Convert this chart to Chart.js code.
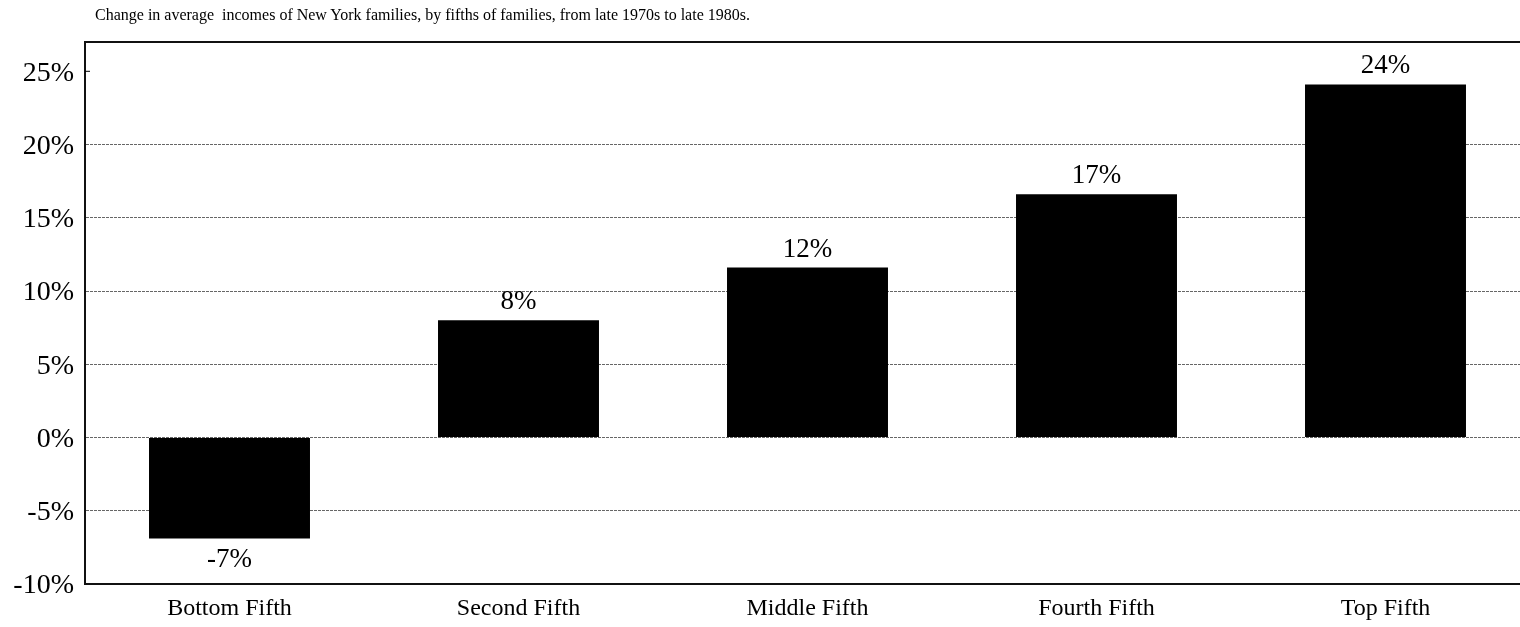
<!DOCTYPE html>
<html>
<head>
<meta charset="utf-8">
<title>Change in average incomes of New York families</title>
<script src="https://cdn.jsdelivr.net/npm/chart.js@4/dist/chart.umd.min.js"></script>
<style>
  html, body { margin: 0; padding: 0; background: #fff; overflow: hidden; }
  #wrap { position: relative; width: 1530px; height: 627px; }
  #title {
    position: absolute; left: 95px; top: 6px;
    font-family: "Liberation Serif", "Times New Roman", serif;
    font-size: 16px; color: #000; white-space: pre;
  }
</style>
</head>
<body>
<div id="wrap">
  <div id="title">Change in average  incomes of New York families, by fifths of families, from late 1970s to late 1980s.</div>
  <canvas id="chart"></canvas>
</div>
<script>
// Income groups and percentage change in average family income
const categories = ['Bottom Fifth', 'Second Fifth', 'Middle Fifth', 'Fourth Fifth', 'Top Fifth'];
const changePct = [-6.9, 8.0, 11.6, 16.6, 24.1];
const yTicks = [-10, -5, 0, 5, 10, 15, 20, 25];
const yMin = -10;
const yMax = 27;

const SERIF = '"Liberation Serif", "Times New Roman", serif';

// Percentage labels above (or below) each bar, plus the top frame line
const barLabels = {
  id: 'barLabels',
  beforeDatasetsDraw(chart) {
    const { ctx, chartArea, scales } = chart;
    ctx.save();
    // small inward tick at the top value of the y axis
    const y25 = scales.y.getPixelForValue(25);
    ctx.strokeStyle = '#000';
    ctx.lineWidth = 1;
    ctx.beginPath();
    ctx.moveTo(chartArea.left, y25);
    ctx.lineTo(chartArea.left + 5, y25);
    ctx.stroke();
    ctx.restore();
  },
  afterDatasetsDraw(chart) {
    const { ctx, chartArea } = chart;
    ctx.save();
    // top frame line
    ctx.strokeStyle = '#111';
    ctx.lineWidth = 2;
    ctx.beginPath();
    ctx.moveTo(chartArea.left - 1, chartArea.top);
    ctx.lineTo(chart.width, chartArea.top);
    ctx.stroke();

    ctx.fillStyle = '#000';
    ctx.font = '27px ' + SERIF;
    ctx.textAlign = 'center';
    ctx.textBaseline = 'alphabetic';
    const meta = chart.getDatasetMeta(0);
    meta.data.forEach((bar, i) => {
      const v = changePct[i];
      const text = Math.round(v) + '%';
      const y = v >= 0 ? bar.y - 11 : bar.y + 28;
      ctx.fillText(text, bar.x, y);
    });
    ctx.restore();
  }
};

new Chart(document.getElementById('chart'), {
  type: 'bar',
  data: {
    labels: categories,
    datasets: [{
      data: changePct,
      backgroundColor: '#000',
      borderWidth: 0,
      barPercentage: 0.557,
      categoryPercentage: 1.0
    }]
  },
  options: {
    responsive: true,
    maintainAspectRatio: false,
    animation: false,
    devicePixelRatio: 1,
    layout: { padding: { top: 42, right: 0, left: 0, bottom: 0 } },
    plugins: {
      legend: { display: false },
      title: { display: false },
      tooltip: { enabled: false }
    },
    scales: {
      x: {
        grid: { display: false, drawTicks: false },
        border: { display: true, color: '#111', width: 2 },
        ticks: {
          color: '#000',
          padding: 10,
          font: { family: SERIF, size: 24 }
        },
        afterFit(scale) { scale.height = 43; }
      },
      y: {
        min: yMin,
        max: yMax,
        afterBuildTicks(scale) {
          scale.ticks = yTicks.map(v => ({ value: v }));
        },
        grid: {
          drawTicks: false,
          color(ctx) {
            const v = ctx.tick && ctx.tick.value;
            return (v === yMin || v === 25) ? 'rgba(0,0,0,0)' : '#666';
          },
          lineWidth: 1
        },
        border: { display: true, color: '#111', width: 2, dash: [3, 1] },
        ticks: {
          color: '#000',
          padding: 11,
          labelOffset: 2,
          font: { family: SERIF, size: 28 },
          callback: v => v + '%'
        },
        afterFit(scale) { scale.width = 85; }
      }
    }
  },
  plugins: [barLabels]
});
</script>
</body>
</html>
